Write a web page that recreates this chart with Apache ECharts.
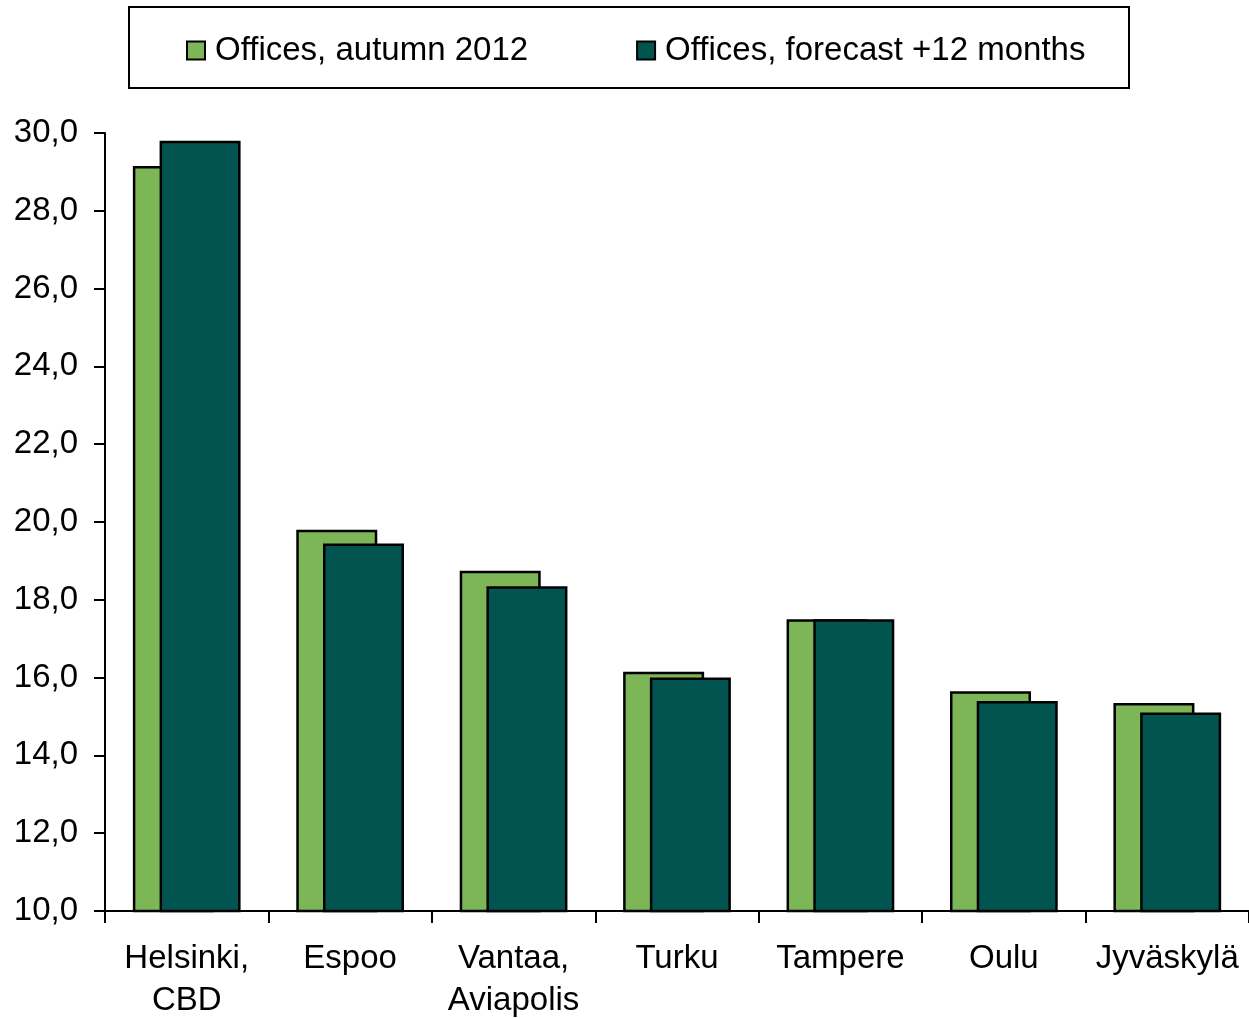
<!DOCTYPE html>
<html>
<head>
<meta charset="utf-8">
<script src="https://cdn.jsdelivr.net/npm/echarts@6/dist/echarts.min.js"></script>
<style>
  html, body { margin: 0; padding: 0; background: #fff; }
  #chart { width: 1249px; height: 1019px; }
</style>
</head>
<body>
<div id="chart"></div>
<script>
// categories and values
const cities = ['Helsinki,\nCBD', 'Espoo', 'Vantaa,\nAviapolis', 'Turku', 'Tampere', 'Oulu', 'Jyväskylä'];
const autumn2012 = [29.15, 19.8, 18.75, 16.15, 17.5, 15.65, 15.35];
const forecast12m = [29.8, 19.45, 18.35, 16.0, 17.5, 15.4, 15.1];
const seriesNames = ['Offices, autumn 2012', 'Offices, forecast +12 months'];

const font = 'Liberation Sans, Arial, sans-serif';

const chart = echarts.init(document.getElementById('chart'), null, { renderer: 'canvas' });

chart.setOption({
    animation: false,
    backgroundColor: '#fff',
    textStyle: { fontFamily: font, color: '#000' },
    graphic: [{
        type: 'rect',
        shape: { x: 129, y: 7, width: 1000, height: 81 },
        style: { fill: '#fff', stroke: '#000', lineWidth: 2 },
        z: 0
    }],
    legend: {
        top: 29,
        left: 181,
        itemWidth: 18,
        itemHeight: 18,
        itemGap: 108,
        icon: 'rect',
        textStyle: { fontSize: 33, color: '#000', fontFamily: font, padding: [0, 0, 0, 5] },
        data: seriesNames
    },
    grid: { left: 105, right: 0, top: 133, bottom: 108, outerBoundsMode: 'none', containLabel: false },
    xAxis: {
        type: 'category',
        data: cities,
        axisLine: { lineStyle: { color: '#000', width: 2 } },
        axisTick: { show: true, length: 12, inside: false, lineStyle: { color: '#000', width: 2 } },
        axisLabel: { fontSize: 33, color: '#000', margin: 27, lineHeight: 42, fontFamily: font, interval: 0 },
        splitLine: { show: false }
    },
    yAxis: {
        type: 'value',
        min: 10,
        max: 30,
        interval: 2,
        axisLine: { show: true, lineStyle: { color: '#000', width: 2 } },
        axisTick: { show: true, length: 11, lineStyle: { color: '#000', width: 2 } },
        axisLabel: {
            fontSize: 33, color: '#000', margin: 27, fontFamily: font,
            formatter: v => v.toFixed(1).replace('.', ',')
        },
        splitLine: { show: false }
    },
    series: [
        {
            name: seriesNames[0],
            type: 'bar',
            data: autumn2012,
            barWidth: 81,
            barGap: '-67%',
            itemStyle: { color: '#7db657', borderColor: '#000', borderWidth: 2.5 }
        },
        {
            name: seriesNames[1],
            type: 'bar',
            data: forecast12m,
            barWidth: 81,
            itemStyle: { color: '#025451', borderColor: '#000', borderWidth: 2.5 }
        }
    ]
});
</script>
</body>
</html>
